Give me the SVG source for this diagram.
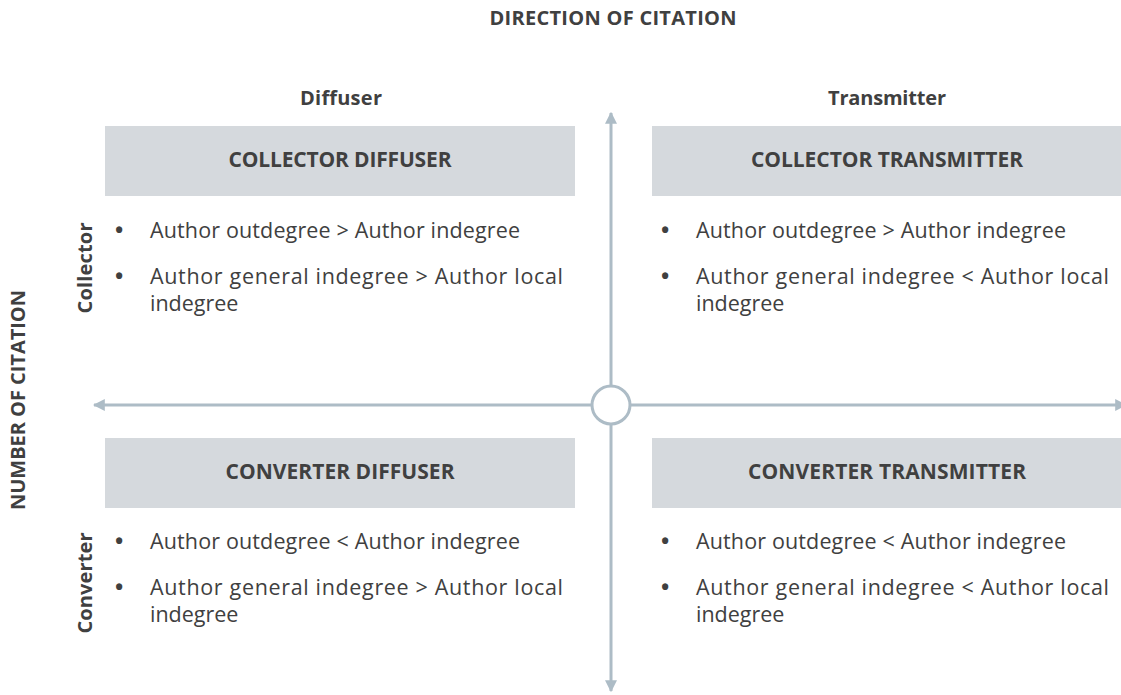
<svg xmlns="http://www.w3.org/2000/svg" width="1121" height="695" viewBox="0 0 1121 695">
<style>
text{font-family:"Open Sans","Liberation Sans",Arial,sans-serif;fill:#404040}
.h{font-weight:bold;font-size:20px;text-anchor:middle}
.t{font-weight:bold;font-size:21px;text-anchor:middle}
.b{font-size:21.5px}
.d{font-size:22px;font-weight:bold}
.box{fill:#d5d9dd}
.ax{stroke:#adbcc6;stroke-width:3;fill:none}
</style>
<defs>
<marker id="ah" viewBox="0 0 10 10" refX="9" refY="5" markerWidth="4" markerHeight="4" orient="auto" markerUnits="strokeWidth">
<path d="M0,0 L10,5 L0,10 z" fill="#adbcc6"/>
</marker>
</defs>
<rect width="1121" height="695" fill="#fff"/>
<g id="labels">
<text class="h" x="613" y="25" textLength="247">DIRECTION OF CITATION</text>
<text class="h" x="341" y="105" textLength="82">Diffuser</text>
<text class="h" x="887" y="105" textLength="118">Transmitter</text>
<text class="h" transform="translate(25,400) rotate(-90)" x="0" y="0" textLength="220">NUMBER OF CITATION</text>
<text class="h" transform="translate(92,268) rotate(-90)" x="0" y="0" textLength="91">Collector</text>
<text class="h" transform="translate(92,583) rotate(-90)" x="0" y="0" textLength="101">Converter</text>
</g>
<g id="connectors">
<line class="ax" x1="611" y1="386" x2="611" y2="113" marker-end="url(#ah)"/>
<line class="ax" x1="611" y1="424" x2="611" y2="691" marker-end="url(#ah)"/>
<line class="ax" x1="592" y1="405" x2="94" y2="405" marker-end="url(#ah)"/>
<line class="ax" x1="630" y1="405" x2="1126" y2="405" marker-end="url(#ah)"/>
<circle class="ax" cx="611" cy="405" r="19" fill="#fff"/>
</g>
<g id="collector-diffuser">
<rect class="box" x="105" y="126" width="470" height="70"/>
<text class="t" x="340" y="167" textLength="223">COLLECTOR DIFFUSER</text>
<text class="d" x="115" y="238">•</text>
<text class="b" x="150" y="238" textLength="370">Author outdegree &gt; Author indegree</text>
<text class="d" x="115" y="284">•</text>
<text class="b" x="150" y="284" textLength="413" lengthAdjust="spacing">Author general indegree &gt; Author local</text>
<text class="b" x="150" y="311">indegree</text>
</g>
<g id="collector-transmitter">
<rect class="box" x="652" y="126" width="469" height="70"/>
<text class="t" x="887" y="167" textLength="272">COLLECTOR TRANSMITTER</text>
<text class="d" x="661" y="238">•</text>
<text class="b" x="696" y="238" textLength="370">Author outdegree &gt; Author indegree</text>
<text class="d" x="661" y="284">•</text>
<text class="b" x="696" y="284" textLength="413" lengthAdjust="spacing">Author general indegree &lt; Author local</text>
<text class="b" x="696" y="311">indegree</text>
</g>
<g id="converter-diffuser">
<rect class="box" x="105" y="438" width="470" height="70"/>
<text class="t" x="340" y="479" textLength="229">CONVERTER DIFFUSER</text>
<text class="d" x="115" y="549">•</text>
<text class="b" x="150" y="549" textLength="370">Author outdegree &lt; Author indegree</text>
<text class="d" x="115" y="595">•</text>
<text class="b" x="150" y="595" textLength="413" lengthAdjust="spacing">Author general indegree &gt; Author local</text>
<text class="b" x="150" y="622">indegree</text>
</g>
<g id="converter-transmitter">
<rect class="box" x="652" y="438" width="469" height="70"/>
<text class="t" x="887" y="479" textLength="278">CONVERTER TRANSMITTER</text>
<text class="d" x="661" y="549">•</text>
<text class="b" x="696" y="549" textLength="370">Author outdegree &lt; Author indegree</text>
<text class="d" x="661" y="595">•</text>
<text class="b" x="696" y="595" textLength="413" lengthAdjust="spacing">Author general indegree &lt; Author local</text>
<text class="b" x="696" y="622">indegree</text>
</g>
</svg>
